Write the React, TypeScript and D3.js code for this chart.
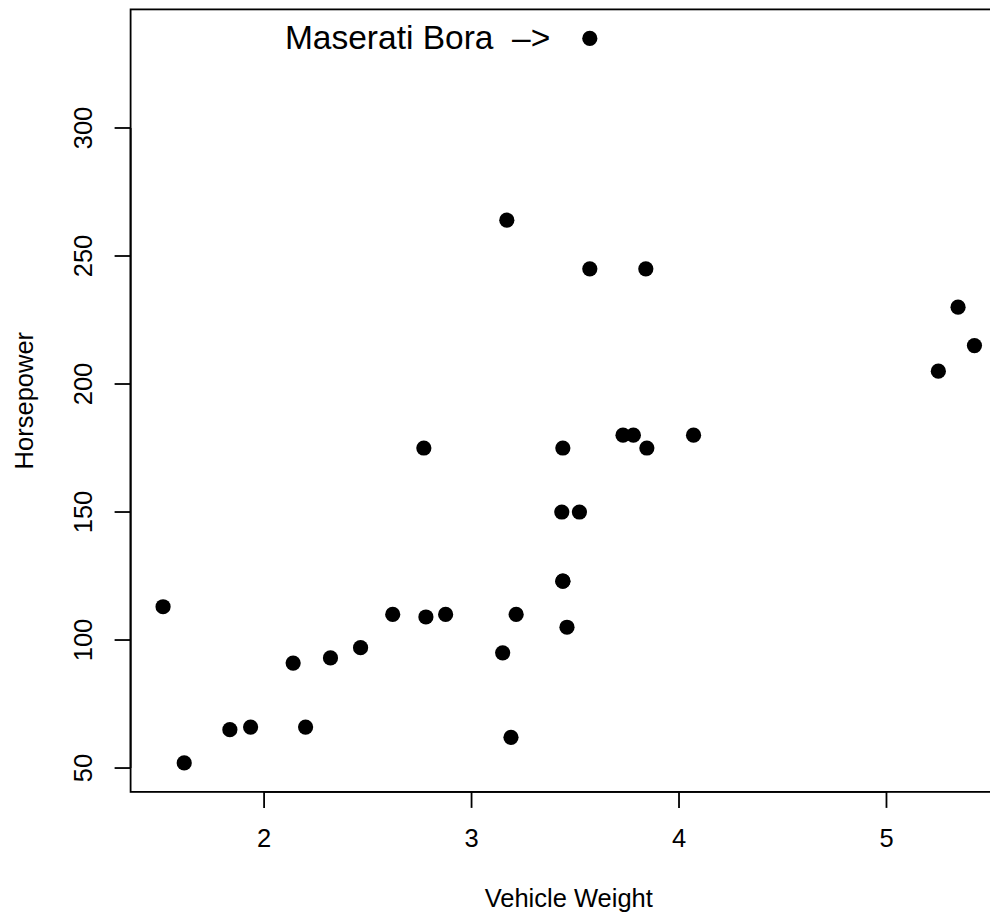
import React from "react";
import * as d3 from "d3";

const cars = ["Mazda RX4","Mazda RX4 Wag","Datsun 710","Hornet 4 Drive","Hornet Sportabout","Valiant","Duster 360","Merc 240D","Merc 230","Merc 280","Merc 280C","Merc 450SE","Merc 450SL","Merc 450SLC","Cadillac Fleetwood","Lincoln Continental","Chrysler Imperial","Fiat 128","Honda Civic","Toyota Corolla","Toyota Corona","Dodge Challenger","AMC Javelin","Camaro Z28","Pontiac Firebird","Fiat X1-9","Porsche 914-2","Lotus Europa","Ford Pantera L","Ferrari Dino","Maserati Bora","Volvo 142E"];
const wt = [2.62,2.875,2.32,3.215,3.44,3.46,3.57,3.19,3.15,3.44,3.44,4.07,3.73,3.78,5.25,5.424,5.345,2.2,1.615,1.835,2.465,3.52,3.435,3.84,3.845,1.935,2.14,1.513,3.17,2.77,3.57,2.78];
const hp = [110,110,93,110,175,105,245,62,95,123,123,180,180,180,205,215,230,66,52,65,97,150,150,245,175,66,91,113,264,175,335,109];
const xTicks = [2, 3, 4, 5];
const yTicks = [50, 100, 150, 200, 250, 300];
const annotation = { x: 2.74, y: 335, label: "Maserati Bora  \u2013>" };

export default function App() {
  const W = 990, H = 914;
  const left = 130.6, right = 1006.9, top = 9.4, bottom = 791.9;
  const xr = d3.extent(wt) as [number, number];
  const yr = d3.extent(hp) as [number, number];
  const xe = (xr[1] - xr[0]) * 0.04, ye = (yr[1] - yr[0]) * 0.04;
  const x = d3.scaleLinear().domain([xr[0] - xe, xr[1] + xe]).range([left, right]);
  const y = d3.scaleLinear().domain([yr[0] - ye, yr[1] + ye]).range([bottom, top]);
  const font = "Liberation Sans, Arial, Helvetica, sans-serif";
  const sw = 1.8;
  const fs = 25.5;
  return (
    <svg width={W} height={H} style={{ position: "absolute", left: 0, top: 0, background: "#fff" }} fontFamily={font}>
      <rect x={left} y={top} width={right - left} height={bottom - top} fill="none" stroke="#000" strokeWidth={sw} />
      <line x1={x(xTicks[0])} x2={x(xTicks[xTicks.length - 1])} y1={bottom} y2={bottom} stroke="#000" strokeWidth={sw} />
      {xTicks.map((t) => (
        <g key={"x" + t}>
          <line x1={x(t)} x2={x(t)} y1={bottom} y2={bottom + 16} stroke="#000" strokeWidth={sw} />
          <text x={x(t)} y={bottom + 55} fontSize={fs} textAnchor="middle">{t}</text>
        </g>
      ))}
      <line x1={left} x2={left} y1={y(yTicks[0])} y2={y(yTicks[yTicks.length - 1])} stroke="#000" strokeWidth={sw} />
      {yTicks.map((t) => (
        <g key={"y" + t}>
          <line x1={left - 16} x2={left} y1={y(t)} y2={y(t)} stroke="#000" strokeWidth={sw} />
          <text transform={`translate(${left - 39},${y(t)}) rotate(-90)`} fontSize={fs} textAnchor="middle">{t}</text>
        </g>
      ))}
      <text x={(left + right) / 2} y={bottom + 115} fontSize={fs} textAnchor="middle">Vehicle Weight</text>
      <text transform={`translate(33,${(top + bottom) / 2}) rotate(-90)`} fontSize={fs} textAnchor="middle">Horsepower</text>
      {wt.map((w, i) => (
        <circle key={cars[i]} cx={x(w)} cy={y(hp[i])} r={7.6} fill="#000" />
      ))}
      <text x={x(annotation.x)} y={y(annotation.y) + 11} fontSize={33.5} textAnchor="middle" style={{ whiteSpace: "pre" }} xmlSpace="preserve">{annotation.label}</text>
    </svg>
  );
}
